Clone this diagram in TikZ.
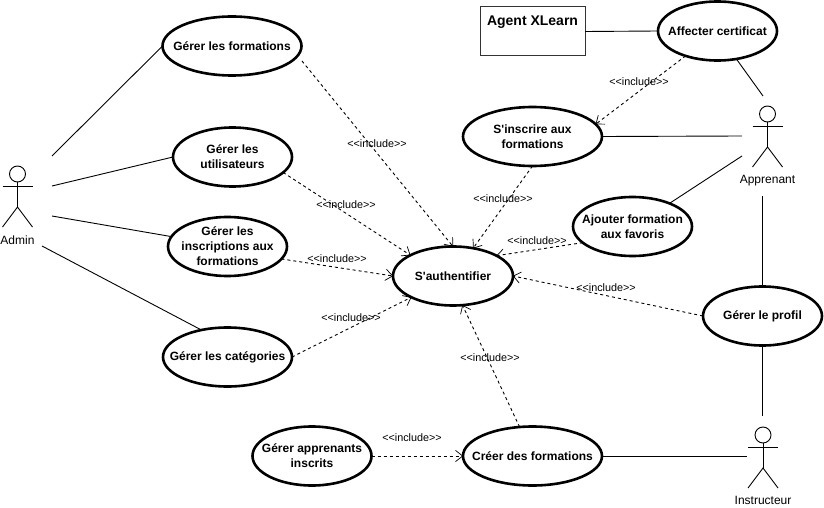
\documentclass[tikz,border=0pt]{standalone}
\usepackage{fontspec}
\setmainfont{Liberation Sans}
\usetikzlibrary{shapes.geometric,arrows.meta}
\tikzset{
  uc/.style={ellipse,draw=black,line width=2.6pt,fill=white,inner xsep=-25pt,inner ysep=-10pt,outer sep=0pt,
    minimum height=59pt,align=center,font=\fontsize{12}{15}\selectfont\bfseries},
  conn/.style={draw=black,line width=0.9pt},
  incl/.style={draw=black,line width=0.9pt,dash pattern=on 3pt off 3pt,-{Straight Barb[length=7pt,width=11pt,line width=0.7pt,round]}},
  inclab/.style={font=\fontsize{10.8}{12}\selectfont,inner sep=0pt},
  actorlab/.style={font=\fontsize{12}{14}\selectfont,inner sep=0pt},
  head/.style={circle,draw=black,line width=0.9pt,minimum size=16pt,inner sep=0pt,outer sep=0pt},
  agentbox/.style={rectangle,draw=black!80,line width=1pt,minimum width=105pt,minimum height=49pt,
    inner sep=0pt,outer sep=0pt,align=center,font=\fontsize{14}{17}\selectfont\bfseries}
}
\newcommand{\stickman}[5]{% name, x, y (head centre), label, label offset
  \node[head] (#1) at (#2,#3) {};
  \draw[conn] (#1.south) -- ++(0,25) coordinate (#1hip);
  \draw[conn] ([xshift=-15pt,yshift=-12pt]#1.center) -- ([xshift=15pt,yshift=-12pt]#1.center);
  \draw[conn] ([xshift=-15pt,yshift=-20pt]#1hip) -- (#1hip) -- ([xshift=15pt,yshift=-20pt]#1hip);
  \node[actorlab] (#1lab) at (#2,#3+#5) {#4};
}
\begin{document}
\begin{tikzpicture}[x=1pt,y=-1pt]
\useasboundingbox (0,0) rectangle (824,508);
\fill[white] (0,0) rectangle (824,508);

\node[uc,minimum width=139pt] (ff) at (232,46) {Gérer les formations};
\node[uc,minimum width=119pt] (uu) at (232.5,157) {Gérer les\\utilisateurs};
\node[uc,minimum width=119pt] (ii) at (227.5,246.5) {Gérer les\\inscriptions aux\\formations};
\node[uc,minimum width=129pt] (cc) at (227.5,357) {Gérer les catégories};
\node[uc,minimum width=120pt] (au) at (453,276) {S\textquotesingle authentifier};
\node[agentbox] (ag) at (532.5,31.5) {Agent XLearn\\[5pt]~};
\node[uc,minimum width=119pt] (af) at (717.5,31) {Affecter certificat};
\node[uc,minimum width=139pt] (si) at (532.5,136.5) {S\textquotesingle inscrire aux\\formations};
\node[uc,minimum width=119pt] (aj) at (632.5,226.5) {Ajouter formation\\aux favoris};
\node[uc,minimum width=119pt] (pr) at (762.5,316) {Gérer le profil};
\node[uc,minimum width=139pt] (cr) at (532.5,456) {Créer des formations};
\node[uc,minimum width=119pt] (ap) at (312,456) {Gérer apprenants\\inscrits};

\stickman{adm}{17.5}{174}{Admin}{66}
\stickman{app}{767.5}{114}{Apprenant}{67}
\stickman{ins}{763}{435}{Instructeur}{65}

\coordinate (adm1) at (52,156);
\coordinate (adm2) at (52,186);
\coordinate (adm3) at (52,216);
\coordinate (adm4) at (42,246);
\coordinate (app1) at (763,96);
\coordinate (app2) at (742,136);
\coordinate (app3) at (742,156);
\coordinate (app4) at (762.5,196);
\coordinate (ins1) at (762.5,416);
\coordinate (ins2) at (747,456);

\draw[conn] (adm1) -- (ff.west);
\draw[conn] (adm2) -- (uu.west);
\draw[conn] (adm3) -- (ii.170);
\draw[conn] (adm4) -- (cc.134);
\draw[conn] (ag.east) -- (af.west);
\draw[conn] (af.-56) -- (app1);
\draw[conn] (si.east) -- (app2);
\draw[conn] (aj.32) -- (app3);
\draw[conn] (pr.north) -- (app4);
\draw[conn] (pr.south) -- (ins1);
\draw[conn] (cr.east) -- (ins2);

\draw[incl] ([shift={(70,15)}]ff.center) -- (au.north);
\draw[incl] (uu.-17) -- (au.154);
\draw[incl] (ii.-13) -- (au.west);
\draw[incl] (cc.east) -- (au.207);
\draw[incl] (si.south) -- (au.54);
\draw[incl] (aj.-162) -- (au.25);
\draw[incl] (pr.west) -- (au.east);
\draw[incl] (cr.114) -- (au.-72);
\draw[incl] (ap.east) -- (cr.west);
\draw[incl] (af.218) -- (si.11);

\node[inclab] (l1) at (377,144) {<{}<include>{}>};
\node[inclab] (l2) at (346,205) {<{}<include>{}>};
\node[inclab] (l3) at (337,259) {<{}<include>{}>};
\node[inclab] (l4) at (351,318) {<{}<include>{}>};
\node[inclab] (l5) at (503,199) {<{}<include>{}>};
\node[inclab] (l6) at (537,241) {<{}<include>{}>};
\node[inclab] (l7) at (606,288) {<{}<include>{}>};
\node[inclab] (l8) at (490,358) {<{}<include>{}>};
\node[inclab] (l9) at (412,438) {<{}<include>{}>};
\node[inclab] (l10) at (639,82) {<{}<include>{}>};
\end{tikzpicture}
\end{document}
